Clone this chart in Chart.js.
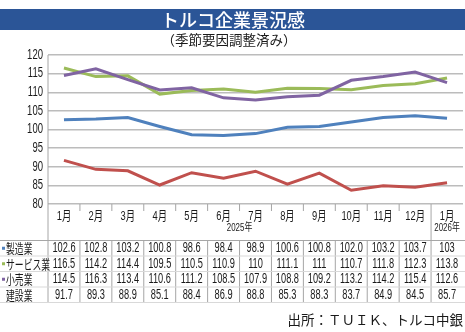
<!DOCTYPE html>
<html>
<head>
<meta charset="utf-8">
<script src="https://cdn.jsdelivr.net/npm/chart.js@4"></script>
<style>
html,body{margin:0;padding:0;background:#fff;}
canvas{display:block;}
</style>
</head>
<body>
<canvas id="c" width="465" height="332"></canvas>
<script>
const months = ["1月","2月","3月","4月","5月","6月","7月","8月","9月","10月","11月","12月","1月"];
const yearLabels = ["2025年","2026年"];
const seriesNames = ["製造業","サービス業","小売業","建設業"];
const manufacturing = ["102.6","102.8","103.2","100.8","98.6","98.4","98.9","100.6","100.8","102.0","103.2","103.7","103"];
const services = ["116.5","114.2","114.4","109.5","110.5","110.9","110","111.1","111","110.7","111.8","112.3","113.8"];
const retail = ["114.5","116.3","113.4","110.6","111.2","108.5","107.9","108.8","109.2","113.2","114.2","115.4","112.6"];
const construction = ["91.7","89.3","88.9","85.1","88.4","86.9","88.8","85.3","88.3","83.7","84.9","84.5","85.7"];
const yTicks = [80,85,90,95,100,105,110,115,120];
const titleText = "トルコ企業景況感";
const subtitleText = "（季節要因調整済み）";
const sourceText = "出所：ＴＵＩＫ、トルコ中銀";

const colors = ["#4F81BD","#9BBB59","#8064A2","#C0504D"];
const tableRows = [manufacturing, services, retail, construction];
const markers = [true, true, true, false];

function ctext(ctx, str, x, y, font, sx, align, color) {
  ctx.save();
  ctx.font = font;
  ctx.fillStyle = color || "#1a1a1a";
  ctx.translate(x, y);
  ctx.scale(sx, 1);
  ctx.textAlign = align;
  ctx.textBaseline = "middle";
  ctx.fillText(str, 0, 0);
  ctx.restore();
}
function line(ctx, x1, y1, x2, y2, color, w) {
  ctx.save();
  ctx.strokeStyle = color; ctx.lineWidth = w;
  ctx.beginPath(); ctx.moveTo(x1, y1); ctx.lineTo(x2, y2); ctx.stroke();
  ctx.restore();
}

const NUMFONT = "'Liberation Sans','Noto Sans CJK JP',sans-serif";
const JPFONT = "'Noto Sans CJK JP',sans-serif";

const decor = {
  id: "decor",
  beforeDraw(chart) {
    const ctx = chart.ctx;
    ctx.save();
    ctx.fillStyle = "#fff";
    ctx.fillRect(0, 0, chart.width, chart.height);
    ctx.fillStyle = "#2B5597";
    ctx.fillRect(0, 9, 465, 21);
    ctx.restore();
    ctext(ctx, titleText, 233, 20, "500 18px " + JPFONT, 1, "center", "#fff");
    ctext(ctx, subtitleText, 229, 40, "13.5px " + JPFONT, 1, "center", "#1a1a1a");
  },
  afterDraw(chart) {
    const ctx = chart.ctx;
    const x = chart.scales.x, y = chart.scales.y;
    const area = chart.chartArea;
    const half = (x.getPixelForValue(1) - x.getPixelForValue(0)) / 2;
    const bnd = k => x.getPixelForValue(k) - half;
    const axisY = area.bottom;
    const tTop = 240.5, rowH = 15.5, tBottom = tTop + rowH * 4;
    // y tick labels
    yTicks.forEach(v => ctext(ctx, String(v), 43, y.getPixelForValue(v), "14px " + NUMFONT, 0.68, "right"));
    // left axis line
    line(ctx, area.left, area.top, area.left, tBottom, "#a6a6a6", 1);
    // month labels and ticks
    months.forEach((m, i) => ctext(ctx, m, x.getPixelForValue(i), 216, "13px " + NUMFONT, 0.72, "center"));
    for (let k = 1; k < months.length; k++) {
      const bx = bnd(k);
      if (k === 12) line(ctx, bx, axisY, bx, tBottom, "#a6a6a6", 1);
      else {
        line(ctx, bx, axisY, bx, axisY + 7, "#a6a6a6", 1);
        line(ctx, bx, tTop, bx, tBottom, "#a6a6a6", 1);
      }
    }
    // year labels
    ctext(ctx, yearLabels[0], (bnd(0) + bnd(12)) / 2, 228, "11px " + NUMFONT, 0.72, "center");
    ctext(ctx, yearLabels[1], x.getPixelForValue(12), 228, "11px " + NUMFONT, 0.72, "center");
    // table lines
    line(ctx, 0, tTop, 465, tTop, "#a6a6a6", 1);
    for (let r = 1; r <= 4; r++) line(ctx, 0, tTop + rowH * r, 465, tTop + rowH * r, "#d9d9d9", 1);
    // rows
    tableRows.forEach((row, r) => {
      const cy = tTop + rowH * r + rowH / 2;
      if (markers[r]) { ctx.fillStyle = colors[r]; ctx.fillRect(2, cy - 1.5, 3, 3); }
      ctext(ctx, seriesNames[r], 6, cy, "13px " + JPFONT, 0.68, "left");
      row.forEach((v, i) => ctext(ctx, v, x.getPixelForValue(i), cy, "14px " + NUMFONT, 0.66, "center"));
    });
    // source
    ctext(ctx, sourceText, 463, 320, "13.5px " + JPFONT, 1, "right");
  }
};

const ds = [manufacturing, services, retail, construction].map((arr, i) => ({
  label: seriesNames[i],
  data: arr.map(Number),
  borderColor: colors[i],
  backgroundColor: colors[i],
  borderWidth: 3,
  pointRadius: 0,
  tension: 0,
  order: i === 2 ? 0 : 1
}));

new Chart(document.getElementById("c"), {
  type: "line",
  data: { labels: months, datasets: ds },
  options: {
    responsive: false,
    animation: false,
    devicePixelRatio: 1,
    layout: { padding: { left: 48, top: 55, right: 2, bottom: 128 } },
    plugins: { legend: { display: false }, tooltip: { enabled: false }, title: { display: false } },
    scales: {
      x: { type: "category", offset: true, display: false },
      y: {
        min: 80, max: 120,
        afterFit(s) { s.width = 0; },
        ticks: { stepSize: 5, display: false },
        grid: { color: "#bcbcbc", lineWidth: 1.5, drawTicks: false },
        border: { display: false }
      }
    }
  },
  plugins: [decor]
});
</script>
</body>
</html>
